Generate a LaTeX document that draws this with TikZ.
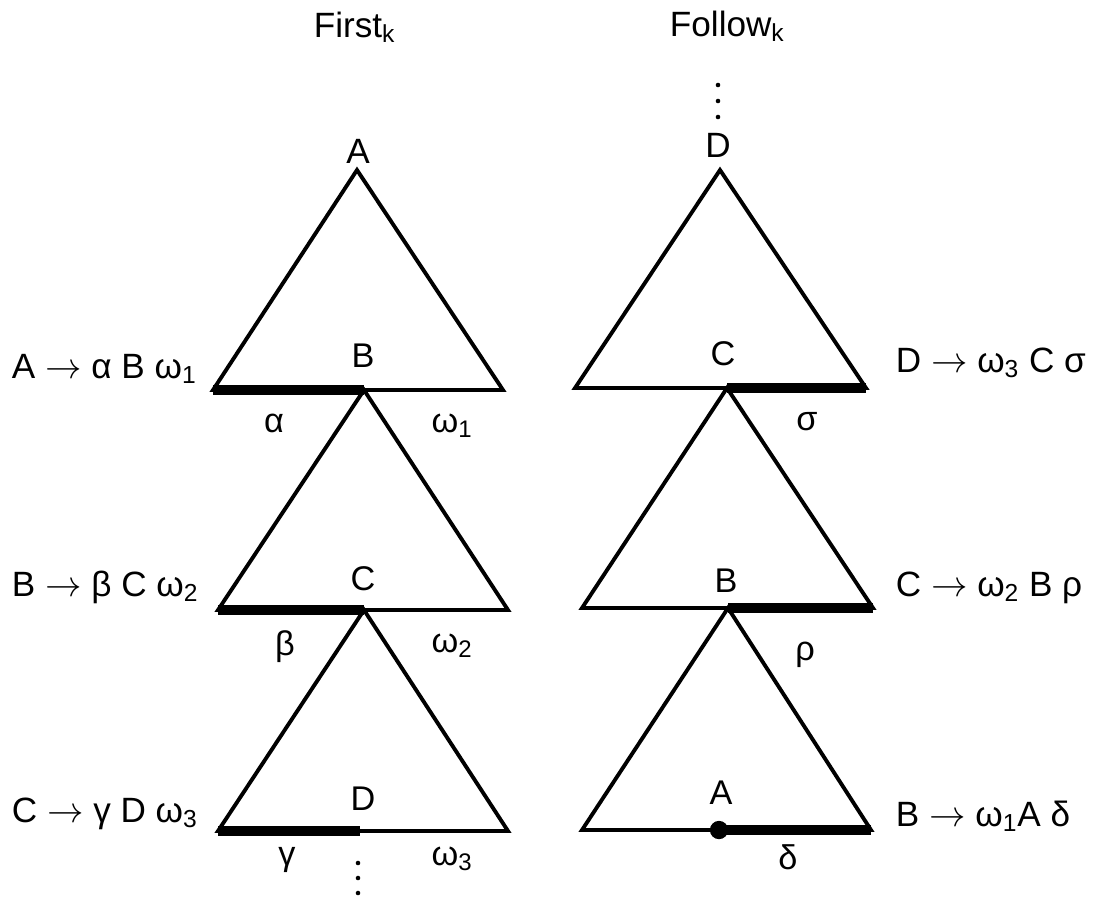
\documentclass[tikz,border=0pt]{standalone}
\usepackage{fontspec}
\setmainfont{Liberation Sans}
\usetikzlibrary{positioning}

\begin{document}
\begin{tikzpicture}[x=0.02cm, y=-0.02cm, line width=2.2pt]

\tikzstyle{every node}=[inner sep=0pt, font=\fontsize{19.5}{23}\selectfont]
\tikzstyle{rule}=[anchor=base west, font=\fontsize{20}{24}\selectfont]
\tikzstyle{sym}=[anchor=base]
\tikzstyle{heavy}=[line width=5.5pt]

\useasboundingbox (0,0) rectangle (1094,897);

% titles
\node[rule] (first) at (312,37) {First\textsubscript{k}};
\node[rule] (follow) at (668,36) {Follow\textsubscript{k}};

% First_k: triangle corners
\coordinate (fA) at (357,170);
\coordinate (fAl) at (213,390);
\coordinate (fAr) at (503,390);
\coordinate (fB) at (364,390);
\coordinate (fBl) at (218,610);
\coordinate (fBr) at (508,610);
\coordinate (fC) at (364,610);
\coordinate (fCl) at (218,831);
\coordinate (fCr) at (508,831);
\coordinate (fD) at (360,831);

% Follow_k: triangle corners
\coordinate (gD) at (720,170);
\coordinate (gDl) at (575,388);
\coordinate (gDr) at (866,388);
\coordinate (gC) at (727,388);
\coordinate (gCl) at (582,608);
\coordinate (gCr) at (873,608);
\coordinate (gB) at (728,608);
\coordinate (gBl) at (582,830);
\coordinate (gBr) at (871,830);
\coordinate (gA) at (719,830);

\draw (fA) -- (fAl) -- (fAr) -- cycle;
\draw (fB) -- (fBl) -- (fBr) -- cycle;
\draw (fC) -- (fCl) -- (fCr) -- cycle;
\draw[heavy] (fAl) -- (fB);
\draw[heavy] (fBl) -- (fC);
\draw[heavy] (fCl) -- (fD);

\draw (gD) -- (gDl) -- (gDr) -- cycle;
\draw (gC) -- (gCl) -- (gCr) -- cycle;
\draw (gB) -- (gBl) -- (gBr) -- cycle;
\draw[heavy] (gC) -- (gDr);
\draw[heavy] (gB) -- (gCr);
\draw[heavy] (gA) -- (gBr);
\fill (gA) circle (5.2pt);

% dots
\fill (718,85) circle (1.3pt) (718,101) circle (1.3pt) (718,117) circle (1.3pt);
\fill (358,863) circle (1.3pt) (358,878) circle (1.3pt) (358,893) circle (1.3pt);

% symbols in the trees
\node[sym, font=\fontsize{20}{24}\selectfont] (tA) at (358,163) {A};
\node[sym] (tB) at (363,367) {B};
\node[sym] (tC) at (363,590) {C};
\node[sym] (tD) at (363,810) {D};
\node[sym, font=\fontsize{20}{24}\selectfont] (uD) at (718,157) {D};
\node[sym] (uC) at (723,365) {C};
\node[sym] (uB) at (726,592) {B};
\node[sym] (uA) at (721,804) {A};

\node[sym] (alpha) at (274,432) {α};
\node[sym] (om1) at (452,432) {ω\textsubscript{1}};
\node[sym] (beta) at (285,655) {β};
\node[sym] (om2) at (452,652) {ω\textsubscript{2}};
\node[sym] (gamma) at (287,865) {γ};
\node[sym] (om3) at (452,865) {ω\textsubscript{3}};
\node[sym] (sigma) at (807,430) {σ};
\node[sym] (rho) at (805,660) {ρ};
\node[sym] (delta) at (788,869) {δ};

% productions
\node[rule] (pA) at (10,378) {A $\rightarrow$ α B ω\textsubscript{1}};
\node[rule] (pB) at (10,596) {B $\rightarrow$ β C ω\textsubscript{2}};
\node[rule] (pC) at (10,822) {C $\rightarrow$ γ D ω\textsubscript{3}};
\node[rule] (pD) at (894,372) {D $\rightarrow$ ω\textsubscript{3} C σ};
\node[rule] (pCr) at (894,596) {C $\rightarrow$ ω\textsubscript{2} B ρ};
\node[rule] (pBr) at (894,826) {B $\rightarrow$ ω\textsubscript{1}A δ};

\end{tikzpicture}
\end{document}
